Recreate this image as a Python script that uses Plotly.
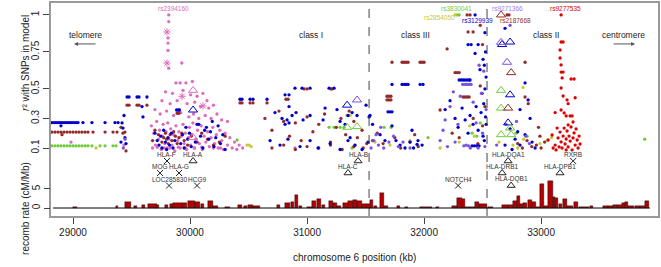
import plotly.graph_objects as go

# ---------------- data ----------------
# SNP r^2 values, (position kb, r^2)
blue_pts = [
    (28820,.272),(28838,.272),(28855,.272),(28872,.272),(28889,.272),(28906,.272),(28923,.272),(28940,.272),
    (28957,.272),(28974,.272),(28991,.272),(29009,.272),(29026,.272),(29043,.272),(29085,.272),(29162,.272),
    (29274,.272),(29359,.272),(29385,.272),(28897,.25),
    (29462,.445),(29479,.445),(29547,.445),(29564,.445),(29632,.445),(29419,.27),(29427,.235),(29444,.17),
    (29453,.13),(29436,.32),(29598,.31),(29590,.38),(29410,.14),
    (29700,.2),(29720,.15),(29735,.12),(29750,.18),(29760,.10),(29775,.22),(29790,.14),(29800,.09),(29812,.17),
    (29825,.12),(29840,.2),(29855,.1),(29870,.15),(29885,.357),(29900,.357),(29910,.357),(29920,.13),(29935,.19),
    (29950,.1),(29965,.24),(29980,.16),(29995,.2),(30010,.11),(30045,.14),(30060,.26),(30075,.26),(30090,.18),
    (30110,.1),(30125,.22),(30140,.24),(30160,.16),(30175,.21),(30190,.28),(30205,.11),(30220,.17),(30240,.25),
    (30260,.13),(30280,.19),(30300,.09),
    (30427,.43),(30444,.43),(30513,.43),(30538,.43),(30658,.43),
    (30897,.505),(30957,.505),(31026,.505),(31188,.505),(31231,.505),(30812,.46),(30846,.46),
    (30726,.34),(30786,.30),(30846,.38),(30872,.32),(30906,.34),(30812,.26),(30829,.29),(30846,.27),(30966,.29),
    (31026,.32),(31137,.29),(31154,.37),(31256,.36),(31282,.28),(31325,.26),(31350,.32),(31385,.34),(31427,.32),
    (31504,.39),(31530,.31),(31368,.17),
    (30684,.15),(30769,.12),(30837,.16),(30940,.11),(31026,.15),(31094,.1),(31197,.13),(31282,.09),(31350,.15),
    (31410,.12),(31470,.09),(31521,.14),
    (31726,.53),(31812,.53),(31829,.53),(31846,.53),(31863,.53),(31966,.53),(31991,.53),(31692,.345),(31709,.345),
    (31726,.345),(31538,.32),(31560,.26),
    (31624,.19),(31666,.15),(31726,.25),(31760,.15),(31795,.12),(31837,.10),(31897,.22),(31948,.15),(31983,.12),
    (31880,.14),(31910,.10),(31940,.125),
    (32300,.56),(32317,.56),(32334,.56),(32351,.56),(32368,.56),(32385,.56),(32393,.56),(32376,.80),(32402,.80),
    (32462,.80),(32436,1.0),(32504,.70),(32478,.63),(32436,.74),
    (32180,.36),(32222,.42),(32265,.30),(32291,.24),(32325,.37),(32351,.29),(32376,.2),(32393,.32),(32419,.26),
    (32445,.38),(32462,.22),(32487,.34),(32504,.18),(32495,.47),
    (32410,.115),(32430,.115),(32450,.115),(32470,.115),
    (32520,.88),(32525,.75),(32515,.66),(32530,.58),(32520,.50),(32510,.40),(32525,.31),(32530,.26),(32515,.15),
    (32692,.91),(32863,.54),(32889,.425),(32820,.36),(32906,.30),(32735,.23),(32778,.16),(32820,.12),(32863,.19),
    (32923,.14),(32949,.1),(32692,.12),(32752,.09),(32800,.21),
]

purple_pts = [
    (31547,.10),(31570,.15),(31590,.19),(31610,.12),(31630,.24),(31655,.10),(31700,.14),(31740,.18),(31780,.11),
    (31820,.14),(31880,.10),
    (32137,.15),(32162,.22),(32180,.29),(32200,.11),(32222,.38),(32250,.48),(32265,.14),(32290,.26),(32310,.45),
    (32330,.53),(32351,.53),(32368,.53),(32385,.53),(32402,.53),(32420,.41),(32445,.27),(32462,.10),(32470,.66),
    (32490,.47),(32340,.115),(32360,.12),(32380,.115),(32395,.10),(32500,.20),(32520,.11),(32510,.62),(32530,.36),
    (32735,.93),(32790,.28),(32870,.18),(32900,.13),(32620,.12),(32700,.26),
    (29430,.10),(29445,.16),
]

brown_pts = [
    (28820,.208),(28846,.208),(28872,.208),(28897,.208),(28923,.208),(28949,.208),(28974,.208),(29000,.208),
    (29026,.208),(29051,.208),(29077,.208),(29103,.208),(29128,.208),(29171,.208),(29274,.208),(29342,.208),
    (29376,.208),(29444,.208),(28906,.19),
    (29462,.39),(29479,.39),(29547,.39),(29564,.39),(29632,.39),(29410,.24),(29427,.20),(29453,.08),
    (29680,.15),(29700,.22),(29730,.19),(29760,.14),(29775,.17),(29790,.2),(29800,.16),(29815,.13),(29830,.19),
    (29845,.15),(29860,.21),(29875,.18),(29890,.13),(29905,.17),(29930,.2),(29950,.15),(29980,.12),(30010,.18),
    (30060,.14),(30100,.2),(30150,.16),(30200,.12),(30250,.14),(30300,.18),(29890,.335),(29905,.335),
    (30427,.405),(30444,.405),(30513,.405),(30538,.405),(30658,.405),(30975,.5),(31000,.5),(31205,.5),(31214,.5),
    (30820,.43),(30838,.43),
    (30640,.3),(30700,.22),(30760,.35),(30800,.28),(30850,.18),(30900,.27),(30950,.15),(31000,.31),(31050,.21),
    (31100,.26),(31150,.33),(31200,.14),(31250,.24),(31290,.3),(31330,.19),(31360,.35),(31400,.28),(31430,.17),
    (31470,.22),(31510,.13),
    (30700,.1),(30800,.12),(30900,.09),(31000,.11),(31100,.1),(31200,.12),(31300,.09),(31400,.11),(31480,.1),
    (31726,.68),(31812,.68),(31829,.68),(31846,.68),(31863,.68),(31966,.68),(31983,.68),(32000,.68),
    (31683,.45),(31700,.45),(31717,.45),(31683,.425),(31700,.425),(31717,.425),
    (32265,.61),(32282,.61),(32300,.61),(32334,.445),(32351,.445),(32368,.445),(32385,.445),(32197,.77),
    (32137,.357),(32376,.885),(32419,.885),(32368,1.0),(32393,1.0),(32480,.93),(32500,.80),
    (31560,.15),(31600,.2),(31650,.13),(31750,.17),(31800,.1),(31880,.14),(31920,.19),(31950,.11),(32240,.20),
    (32300,.17),(32420,.30),(32460,.13),(32500,.25),(32520,.38),(32480,.52),
    (32709,1.0),(32726,1.0),(32863,.68),(32863,.445),(32890,.40),(32800,.13),(32840,.1),(32880,.15),(32920,.11),
    (32960,.12),(32990,.18),(32978,.24),(33000,.1),(33030,.14),
]

green_pts = [
    (28820,.115),(28846,.115),(28872,.115),(28897,.115),(28923,.115),(28949,.115),(28974,.115),(29000,.115),
    (29026,.115),(29051,.115),(29077,.115),(29103,.115),(29128,.115),(29162,.115),(29231,.115),(29274,.115),
    (29342,.115),(29368,.115),
    (30402,.154),
    (31188,.24),(31231,.24),(31282,.24),(31316,.24),(31385,.10),
    (31658,.24),(31718,.24),(32034,.17),(32410,.20),(32450,.18),(32480,.27),(32282,1.0),(32300,1.0),
    (32786,.2),(32880,.18),(33885,.16),
]

yellow_pts = [
    (29197,.10),(30487,.12),(30505,.12),(30522,.11),(31342,.32),(31368,.32),(31410,.12),(31580,.14),(31709,.12),
    (31880,.15),(32137,.10),(32300,.14),(32390,.25),(32430,.18),(32265,1.0),
    (32846,.51),(32640,.14),(32760,.12),(32800,.1),(32850,.16),(33050,.15),(33090,.17),(32990,.13),
]

red_pts = [
    (33171,1.0),(33171,.817),(33188,.817),(33162,.763),(33162,.709),(33171,.662),(33171,.614),(33188,.614),
    (33180,.574),(33256,.567),(33282,.567),(33171,.506),(33188,.452),(33222,.425),(33291,.44),(33171,.357),
    (33197,.337),(33214,.317),(33248,.317),(33265,.317),(33231,.40),(33120,.34),
    (33060,.154),(33094,.188),(33120,.12),(33137,.235),(33145,.168),(33162,.208),(33171,.141),(33179,.10),
    (33188,.181),(33197,.235),(33205,.127),(33214,.161),(33222,.215),(33231,.107),(33239,.181),(33248,.147),
    (33256,.242),(33265,.087),(33273,.168),(33282,.202),(33291,.12),(33299,.229),(33308,.154),(33316,.10),
    (33325,.181),(33128,.087),(33154,.107),(33214,.087),(33103,.10),(33333,.127),(33231,.256),(33273,.276),
]

pink_pts = [
    (29818,1.0),(29818,.955),(29812,.845),(29812,.81),(29818,.64),(29812,.76),
    (29930,.675),(29880,.54),(29915,.54),(29965,.54),(30020,.55),
    (29790,.48),(29850,.47),(29940,.49),(30005,.46),(30060,.45),(30110,.47),(30145,.42),
    (29760,.42),(29830,.40),(29890,.42),(29975,.40),(30040,.41),(30090,.38),(30160,.37),(30200,.39),
    (29700,.36),(29745,.33),(29800,.35),(29860,.32),(29920,.34),(29990,.31),(30030,.33),(30075,.30),(30130,.32),
    (30180,.30),(30230,.33),(30270,.29),(30320,.28),
    (29670,.25),(29690,.2),(29705,.12),(29715,.28),(29730,.16),(29740,.22),(29755,.09),(29765,.18),(29770,.26),
    (29785,.13),(29795,.21),(29805,.1),(29810,.27),(29820,.16),(29835,.23),(29845,.12),(29860,.19),(29870,.08),
    (29880,.25),(29895,.15),(29905,.21),(29915,.1),(29925,.18),(29940,.26),(29950,.13),(29960,.2),(29970,.09),
    (29985,.17),(29995,.24),(30005,.12),(30015,.19),(30025,.27),(30035,.1),(30050,.16),(30065,.22),(30080,.13),
    (30095,.25),(30105,.09),(30120,.18),(30135,.14),(30150,.21),(30165,.11),(30180,.17),(30195,.24),(30210,.13),
    (30225,.19),(30240,.1),(30255,.22),(30270,.15),(30285,.09),(30300,.2),(30320,.12),(30340,.17),(30360,.1),
    (30380,.14),(30400,.09),(30420,.12),(30450,.1),
    (29680,.1),(29720,.105),(29780,.1),(29830,.1),(29900,.105),(29960,.1),(30040,.1),(30100,.105),(30200,.1),
    (30260,.1),(28983,.14),(29436,.12),(30897,.1),
]

# typed SNPs (asterisks) and tag SNPs (open triangles)
pink_star = [(29803,.885),(29803,.675),(29932,.45),(30111,.385)]
tri_pink = [(30026,.49),(30026,.17)]
tri_blue = [(30026,.357),(31342,.39),(32666,.80),(32735,.817),(32735,.46),(32718,.27)]
tri_purple = [(31427,.425),(32658,.815),(32709,.68)]
tri_green = [(31342,.24),(31427,.245),(32658,.49),(32658,.37),(32735,.235),(32658,.19),(32744,.19)]
tri_brown = [(32658,1.0),(32744,.61),(32718,.37)]

# recombination rate bars (centre kb, width kb, cM/Mb)
rec_kb = [29017,29376,29470,29530,29603,29680,29726,29799,29842,29893,29953,30013,30064,30103,30175,30218,
          30320,30427,30470,30517,30568,30756,30833,30876,30910,30940,31021,31060,31103,31137,31205,31239,
          31273,31329,31372,31410,31449,31487,31521,31551,31581,31641,31675,31782,31850,32017,32111,32261,
          32303,32338,32393,32453,32504,32564,32692,32739,32778,32808,32833,32863,32906,32940,32974,33009,
          33043,33081,33111,33132,33162,33205,33248,33299,33367,33432,33551,33594,33632,33671,33705,33731,
          33769,33825,33867,33906]
rec_w = [26,17,51,26,26,77,26,26,26,77,43,60,43,26,43,43,43,34,26,43,60,26,43,26,26,26,43,34,34,26,34,34,
         34,43,43,34,43,34,26,26,26,34,34,26,26,100,26,43,43,26,85,34,68,43,51,43,34,26,26,34,34,34,34,34,
         34,43,17,26,26,34,51,34,85,26,43,43,34,43,26,26,51,43,43,34]
rec_rate = [0.3,0.45,1.6,0.5,0.8,1.1,0.7,0.8,1.0,1.2,1.4,1.9,1.6,1.0,1.9,0.6,0.3,0.8,0.6,0.8,0.6,0.8,1.2,
            1.6,3.3,0.5,0.3,1.8,2.3,0.7,1.8,1.2,0.6,1.4,1.8,2.0,1.8,1.0,1.1,2.0,0.6,3.9,0.5,0.4,0.3,0.3,0.2,
            0.5,2.6,2.3,0.3,1.6,1.1,0.3,0.7,0.9,1.8,3.2,1.0,1.3,2.1,1.5,0.3,6.3,0.5,7.2,3.0,2.6,1.0,2.3,0.4,
            1.5,0.2,0.6,0.5,0.6,0.8,0.9,1.3,1.7,0.6,0.5,0.4,1.9]

genes = ["HLA-F","HLA-A","MOG","HLA-G","LOC285830","HCG9","HLA-B","HLA-C","NOTCH4",
         "HLA-DQA1","HLA-DRB1","HLA-DQB1","RXRB","HLA-DPB1"]
gene_kb = [29803,30026,29744,29906,29821,30060,31436,31350,32291,32718,32667,32744,33274,33162]
gene_row = [1,1,2,2,3,3,1,2,3,1,2,3,1,2]
gene_sym = ["x","tri","x","x","x","x","tri","tri","x","tri","tri","tri","x","tri"]

snp_labels = ["rs2394160","rs3830041","rs2854050","rs3129939","rs9271366","rs2187668","rs9277535"]
snp_label_kb = [29855,32274,32128,32453,32709,32778,33205]
snp_label_r2 = [1.041,1.041,0.98,0.96,1.041,0.96,1.041]

region_labels = ["class I","class III","class II"]
region_label_kb = [31034,31923,33043]
region_bounds_kb = [31530,32538]

x_ticks = [29000, 30000, 31000, 32000, 33000]
r2_ticks = [0.1, 0.3, 0.5, 0.75, 1]
rec_ticks = [0, 5]

# ---------------- colours ----------------
C_BLUE = "#0000cc"
C_PURPLE = "#7b52e0"
C_BROWN = "#952a2a"
C_GREEN = "#70cc3a"
C_YELLOW = "#c8c83a"
C_RED = "#e00000"
C_PINK = "#dd6bbf"
snp_label_colors = [C_PINK, C_GREEN, C_YELLOW, C_BLUE, "#9b7bee", C_BROWN, C_RED]

FONT = "Liberation Sans, Arial, sans-serif"

fig = go.Figure()

# recombination bars
fig.add_trace(go.Bar(x=rec_kb, y=rec_rate, width=rec_w, yaxis="y2",
                     marker=dict(color="#b40000", line=dict(color="#000000", width=0.4)),
                     hoverinfo="skip", showlegend=False))

def dots(pts, color, size=3.3):
    fig.add_trace(go.Scatter(x=[p[0] for p in pts], y=[p[1] for p in pts], mode="markers",
                             marker=dict(color=color, size=size, symbol="circle", line=dict(width=0)),
                             hoverinfo="skip", showlegend=False))

dots(pink_pts, C_PINK)
dots(green_pts, C_GREEN)
dots(yellow_pts, C_YELLOW)
dots(brown_pts, C_BROWN)
dots(blue_pts, C_BLUE)
dots(purple_pts, C_PURPLE)
dots(red_pts, C_RED)

def sym(pts, color, symbol, size, lw=1.0):
    fig.add_trace(go.Scatter(x=[p[0] for p in pts], y=[p[1] for p in pts], mode="markers",
                             marker=dict(color=color, size=size, symbol=symbol, line=dict(width=lw, color=color)),
                             hoverinfo="skip", showlegend=False))

sym(pink_star, C_PINK, "asterisk-open", 6)
sym(tri_pink, C_PINK, "triangle-up-open", 8)
sym(tri_blue, C_BLUE, "triangle-up-open", 8)
sym(tri_purple, C_PURPLE, "triangle-up-open", 8)
sym(tri_green, C_GREEN, "triangle-up-open", 8)
sym(tri_brown, C_BROWN, "triangle-up-open", 8)

# genes
row_y = {1: 0.012, 2: -0.069, 3: -0.154}
gx = [k for k, s in zip(gene_kb, gene_sym) if s == "x"]
gxy = [row_y[r] for r, s in zip(gene_row, gene_sym) if s == "x"]
gt = [k for k, s in zip(gene_kb, gene_sym) if s == "tri"]
gty = [row_y[r] for r, s in zip(gene_row, gene_sym) if s == "tri"]
fig.add_trace(go.Scatter(x=gx, y=gxy, mode="markers", hoverinfo="skip", showlegend=False,
                         marker=dict(symbol="x-thin-open", size=6, color="#222", line=dict(width=1, color="#222"))))
fig.add_trace(go.Scatter(x=gt, y=gty, mode="markers", hoverinfo="skip", showlegend=False,
                         marker=dict(symbol="triangle-up-open", size=7, color="#222", line=dict(width=1, color="#222"))))

annotations = []
for g, k, r in zip(genes, gene_kb, gene_row):
    annotations.append(dict(x=k, y=row_y[r] + 0.041, xref="x", yref="y", text=g, showarrow=False,
                            font=dict(family=FONT, size=6.5, color="#333")))
for t, k, r, c in zip(snp_labels, snp_label_kb, snp_label_r2, snp_label_colors):
    annotations.append(dict(x=k, y=r, xref="x", yref="y", text=t, showarrow=False,
                            font=dict(family=FONT, size=6.5, color=c)))
for t, k in zip(region_labels, region_label_kb):
    annotations.append(dict(x=k, y=0.865, xref="x", yref="y", text=t, showarrow=False,
                            font=dict(family=FONT, size=8.5, color="#222")))
annotations += [
    dict(x=29103, y=0.865, xref="x", yref="y", text="telomere", showarrow=False,
         font=dict(family=FONT, size=8.5, color="#222")),
    dict(x=33701, y=0.865, xref="x", yref="y", text="centromere", showarrow=False,
         font=dict(family=FONT, size=8.5, color="#222")),
    dict(x=29009, y=0.804, ax=29205, ay=0.804, xref="x", yref="y", axref="x", ayref="y", text="",
         showarrow=True, arrowhead=2, arrowsize=0.8, arrowwidth=1, arrowcolor="#555"),
    dict(x=33803, y=0.804, ax=33607, ay=0.804, xref="x", yref="y", axref="x", ayref="y", text="",
         showarrow=True, arrowhead=2, arrowsize=0.8, arrowwidth=1, arrowcolor="#555"),
    dict(x=-0.043, y=0.718, xref="paper", yref="paper", xanchor="center", yanchor="middle",
         text="<i>r</i>² with SNPs in model",
         textangle=-90, showarrow=False, font=dict(family=FONT, size=10, color="#222")),
    dict(x=-0.043, y=0, xref="paper", yref="y2", xanchor="center", yanchor="middle",
         text="recomb rate (cM/Mb)",
         textangle=-90, showarrow=False, font=dict(family=FONT, size=10, color="#222")),
    dict(x=0.5, y=-0.197, xref="paper", yref="paper", xanchor="center", yanchor="middle",
         text="chromosome 6 position (kb)",
         showarrow=False, font=dict(family=FONT, size=10, color="#222")),
]

shapes = []
for b in region_bounds_kb:
    shapes.append(dict(type="line", x0=b, x1=b, y0=0, y1=1, xref="x", yref="paper",
                       line=dict(color="#444", width=1, dash="dash")))
shapes.append(dict(type="line", x0=28830, x1=33930, y0=0, y1=0, xref="x", yref="y2",
                   line=dict(color="#000", width=1)))

fig.update_layout(
    width=661, height=267,
    margin=dict(l=51, r=3, t=3, b=51),
    paper_bgcolor="white", plot_bgcolor="white",
    showlegend=False, bargap=0,
    font=dict(family=FONT, size=10, color="#222"),
    xaxis=dict(range=[28812, 33999], tickvals=x_ticks, ticktext=[str(v) for v in x_ticks],
               ticks="outside", ticklen=6, tickcolor="#444", showgrid=False, zeroline=False,
               showline=True, mirror=True, linecolor="#999", linewidth=2,
               tickfont=dict(family=FONT, size=10, color="#222"), automargin=False),
    yaxis=dict(range=[-0.360, 1.081], tickvals=r2_ticks,
               ticktext=["0.1", "0.3", "0.5", "0.75", "1"], tickangle=-90,
               ticks="outside", ticklen=6, tickcolor="#444", showgrid=False, zeroline=False,
               showline=True, mirror=True, linecolor="#999", linewidth=2,
               tickfont=dict(family=FONT, size=10, color="#222"), automargin=False),
    yaxis2=dict(range=[-2.1, 53.9], overlaying="y", side="left", anchor="x",
                tickvals=rec_ticks, ticktext=[str(v) for v in rec_ticks], tickangle=-90,
                ticks="outside", ticklen=6, tickcolor="#444", showgrid=False, zeroline=False,
                showline=False, tickfont=dict(family=FONT, size=10, color="#222"), automargin=False),
    annotations=annotations, shapes=shapes,
)

fig.write_html("out.html", config={"displayModeBar": False},
               post_script="document.body.style.margin='0px';document.body.style.overflow='hidden';")
